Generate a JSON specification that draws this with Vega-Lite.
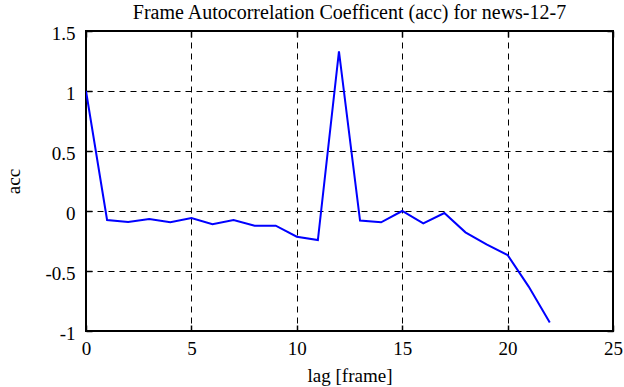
{
  "$schema": "https://vega.github.io/schema/vega-lite/v6.json",
  "autosize": "none",
  "width": 527,
  "height": 300,
  "padding": {"left": 86, "top": 31, "right": 11, "bottom": 56},
  "background": "white",
  "title": {
    "text": "Frame Autocorrelation Coefficent (acc) for news-12-7",
    "font": "Liberation Serif",
    "fontSize": 20,
    "fontWeight": "normal",
    "color": "black",
    "offset": 1
  },
  "config": {
    "font": "Liberation Serif",
    "view": {"stroke": "black", "strokeWidth": 2},
    "axis": {
      "labelColor": "black",
      "titleFont": "Liberation Serif",
      "titleFontSize": 19,
      "titleFontWeight": "normal",
      "titleColor": "black",
      "domain": false,
      "tickColor": "black",
      "tickSize": -6,
      "tickWidth": 1.5,
      "gridColor": "black",
      "gridDash": [6, 5],
      "gridWidth": 1,
      "gridOpacity": 1
    }
  },
  "data": {
    "values": [
      {"lag": 0, "acc": 1.0},
      {"lag": 1, "acc": -0.075},
      {"lag": 2, "acc": -0.092},
      {"lag": 3, "acc": -0.067},
      {"lag": 4, "acc": -0.094},
      {"lag": 5, "acc": -0.058},
      {"lag": 6, "acc": -0.11},
      {"lag": 7, "acc": -0.075},
      {"lag": 8, "acc": -0.122},
      {"lag": 9, "acc": -0.122},
      {"lag": 10, "acc": -0.214},
      {"lag": 11, "acc": -0.242},
      {"lag": 12, "acc": 1.33},
      {"lag": 13, "acc": -0.08},
      {"lag": 14, "acc": -0.094},
      {"lag": 15, "acc": 0.0},
      {"lag": 16, "acc": -0.103},
      {"lag": 17, "acc": -0.017},
      {"lag": 18, "acc": -0.178},
      {"lag": 19, "acc": -0.278},
      {"lag": 20, "acc": -0.367},
      {"lag": 21, "acc": -0.63},
      {"lag": 22, "acc": -0.93}
    ]
  },
  "layer": [
    {
      "mark": {"type": "line", "color": "#0000ff", "strokeWidth": 2, "clip": true},
      "encoding": {
        "x": {
          "field": "lag", "type": "quantitative",
          "scale": {"domain": [0, 25], "nice": false, "zero": false},
          "axis": {"title": "lag [frame]", "values": [0, 5, 10, 15, 20, 25], "grid": true, "labelPadding": 14, "titlePadding": 8, "labelFlush": false, "labelOverlap": false, "labelExpr": "toString(datum.value)", "labelFont": "Liberation Serif", "labelFontSize": 19}
        },
        "y": {
          "field": "acc", "type": "quantitative",
          "scale": {"domain": [-1, 1.5], "nice": false, "zero": false},
          "axis": {"title": "acc", "values": [-1, -0.5, 0, 0.5, 1, 1.5], "grid": true, "labelPadding": 17, "labelOffset": 2, "titlePadding": 21, "labelFlush": false, "labelOverlap": false, "labelExpr": "toString(datum.value)", "labelFont": "Liberation Serif", "labelFontSize": 19}
        }
      }
    },
    {
      "mark": {"type": "point", "opacity": 0},
      "encoding": {
        "x": {
          "field": "lag", "type": "quantitative",
          "axis": {"orient": "top", "title": null, "labels": false, "grid": false, "values": [0, 5, 10, 15, 20, 25]}
        },
        "y": {
          "field": "acc", "type": "quantitative",
          "axis": {"orient": "right", "title": null, "labels": false, "grid": false, "values": [-1, -0.5, 0, 0.5, 1, 1.5]}
        }
      }
    }
  ],
  "resolve": {"axis": {"x": "independent", "y": "independent"}}
}
